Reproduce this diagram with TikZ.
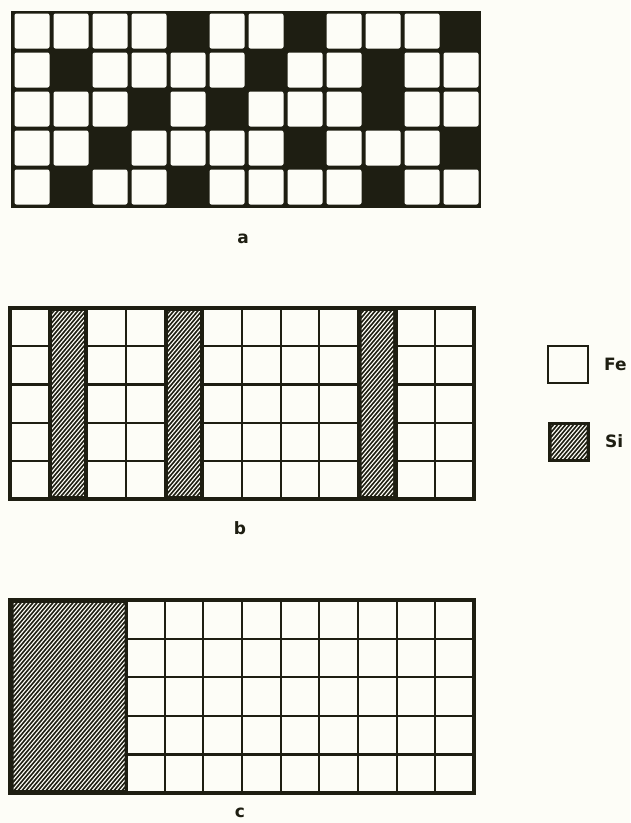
\documentclass[tikz,border=0pt]{standalone}
\usepackage{fontspec}
\newfontfamily\labfont{DejaVu Sans}
\definecolor{dk}{RGB}{30,30,18}
\definecolor{paper}{RGB}{253,253,247}
\tikzset{
  dkfill/.style={fill=dk},
  cellw/.style={fill=paper, rounded corners=2pt},
  hl/.style={draw=paper, line width=1.15pt},
  gridln/.style={draw=dk, line width=2.2pt},
  outer/.style={draw=dk, line width=3.8pt},
  lab/.style={font=\labfont\bfseries\fontsize{17}{17}\selectfont, text=dk, inner sep=0pt},
}
\newcommand\hatchbox[4]{%
  \pgfmathsetmacro\hxa{#1}\pgfmathsetmacro\hya{#2}%
  \pgfmathsetmacro\hxb{#3}\pgfmathsetmacro\hyb{#4}%
  \fill[dk] (\hxa,\hya) rectangle (\hxb,\hyb);
  \begin{scope}
    \clip ({\hxa+3.5},{\hya+3.5}) rectangle ({\hxb-3.5},{\hyb-3.5});
    \pgfmathtruncatemacro\nh{(\hxb-\hxa+230)/4}
    \foreach \k in {0,...,\nh} \draw[hl] ({\hxa-220+\k*4},\hyb) -- ++(220,-260);
  \end{scope}}
\begin{document}
\begin{tikzpicture}[x=1pt,y=-1pt]
\useasboundingbox (0,0) rectangle (630,823);
\fill[paper] (0,0) rectangle (630,823);

% ---------- grid a ----------
\fill[dk] (11,10.5) rectangle (481,207.5);
\foreach \c in {1,...,12}
  \foreach \r in {1,...,5}
    \fill[cellw] ({12.5+(\c-1)*39+2},{11.5+(\r-1)*39+2}) rectangle ({12.5+\c*39-2},{11.5+\r*39-2});
\foreach \c/\r in {5/1,8/1,12/1,2/2,7/2,10/2,4/3,6/3,10/3,3/4,8/4,12/4,2/5,5/5,10/5}
  \fill[dk] ({12.5+(\c-1)*39},{11.5+(\r-1)*39}) rectangle ({12.5+\c*39},{11.5+\r*39});
\node[lab] (la) at (243,239) {a};

% ---------- grid b ----------
\foreach \c in {1,...,11} \draw[gridln] ({10+\c*38.67},308) -- ({10+\c*38.67},499);
\foreach \r in {1,...,4} \draw[gridln] (10,{308+\r*38.2}) -- (474,{308+\r*38.2});
\foreach \c in {2,5,10} {\hatchbox{10+(\c-1)*38.67}{308}{10+\c*38.67}{499}}
\draw[outer] (10,308) rectangle (474,499);
\node[lab] (lb) at (240,528) {b};

% ---------- grid c ----------
\foreach \c in {4,...,11} \draw[gridln] ({10+\c*38.67},600) -- ({10+\c*38.67},793);
\foreach \r in {1,...,4} \draw[gridln] (128,{600+\r*38.6}) -- (474,{600+\r*38.6});
\hatchbox{10}{600}{128}{793}
\draw[outer] (10,600) rectangle (474,793);
\node[lab] (lc) at (240,813) {c};

% ---------- legend ----------
\draw[draw=dk, line width=1.6pt, fill=paper] (548,346) rectangle (588,383);
\node[lab, anchor=west] (fe) at (604,364) {Fe};
\hatchbox{548}{422}{590}{462}
\node[lab, anchor=west] (si) at (605,441) {Si};
\end{tikzpicture}
\end{document}
